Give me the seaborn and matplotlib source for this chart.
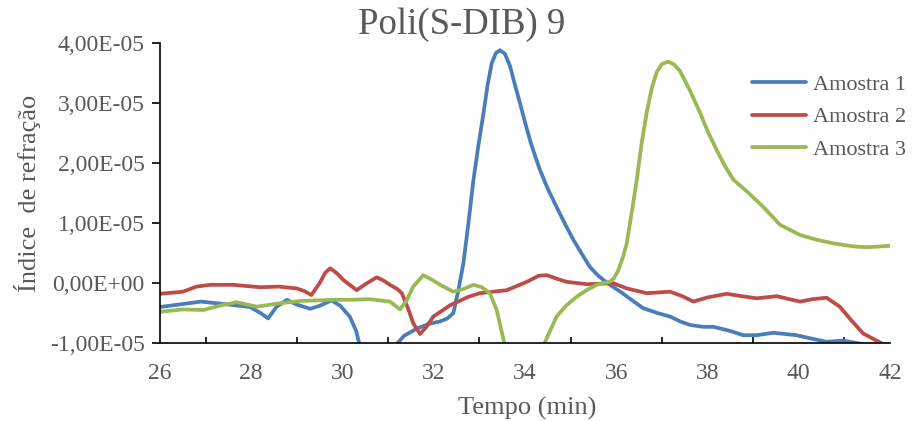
import numpy as np
import pandas as pd
import matplotlib
matplotlib.use("Agg")
import matplotlib.pyplot as plt
from matplotlib.ticker import FuncFormatter, MultipleLocator
import seaborn as sns

# values in units of 1e-5
SCALE = 1e-5
t1 = [26.0, 26.4, 26.9, 27.4, 27.97, 28.2, 28.37, 28.55, 28.78, 29.0, 29.29, 29.5, 29.76, 29.95,
      30.16, 30.3, 30.38, 30.5, 31.0, 31.15, 31.35, 31.63, 31.9, 32.14, 32.3, 32.43, 32.54, 32.65,
      32.76, 32.87, 32.98, 33.09, 33.18, 33.27, 33.36, 33.45, 33.56, 33.67, 33.78, 33.89, 34.0,
      34.11, 34.22, 34.33, 34.5, 34.69, 34.88, 35.06, 35.25, 35.42, 35.58, 35.72, 35.9, 36.1,
      36.35, 36.59, 36.9, 37.18, 37.4, 37.62, 37.9, 38.13, 38.5, 38.78, 39.08, 39.44, 39.7, 39.95,
      40.3, 40.61, 40.98, 41.41, 42.0]
a1 = [-0.40, -0.36, -0.31, -0.35, -0.40, -0.50, -0.59, -0.40, -0.28, -0.36, -0.43, -0.38, -0.29, -0.38,
      -0.56, -0.80, -1.05, -1.6, -1.6, -1.05, -0.88, -0.76, -0.68, -0.64, -0.59, -0.50, -0.12, 0.33,
      1.0, 1.72, 2.3, 2.83, 3.3, 3.66, 3.83, 3.88, 3.82, 3.62, 3.3, 3.0, 2.68,
      2.38, 2.12, 1.88, 1.57, 1.27, 0.98, 0.72, 0.48, 0.27, 0.14, 0.05, -0.05, -0.15,
      -0.29, -0.42, -0.50, -0.56, -0.64, -0.70, -0.73, -0.73, -0.80, -0.87, -0.87, -0.83, -0.85, -0.87,
      -0.93, -0.98, -0.96, -1.02, -1.03]

t2 = [26.0, 26.5, 26.8, 27.1, 27.6, 28.19, 28.6, 28.99, 29.15, 29.32, 29.5, 29.62, 29.73, 29.88, 30.02,
      30.31, 30.5, 30.75, 30.9, 31.04, 31.2, 31.3, 31.45, 31.55, 31.7, 31.85, 31.99, 32.36, 32.76, 33.01,
      33.6, 34.04, 34.3, 34.48, 34.7, 34.91, 35.35, 35.94, 36.23, 36.67, 37.18, 37.45, 37.69, 38.0,
      38.42, 38.75, 39.08, 39.52, 39.8, 40.03, 40.3, 40.61, 40.9, 41.15, 41.41, 41.85, 42.0]
a2 = [-0.18, -0.145, -0.06, -0.03, -0.03, -0.07, -0.06, -0.09, -0.13, -0.2, 0.0, 0.17, 0.245, 0.16, 0.05,
      -0.12, -0.02, 0.095, 0.04, -0.03, -0.1, -0.17, -0.45, -0.67, -0.85, -0.72, -0.56, -0.37, -0.23, -0.17,
      -0.12, 0.02, 0.12, 0.13, 0.07, 0.02, -0.02, -0.005, -0.09, -0.17, -0.145, -0.22, -0.31, -0.24,
      -0.18, -0.22, -0.255, -0.22, -0.27, -0.31, -0.27, -0.245, -0.395, -0.62, -0.84, -1.02, -1.08]

t3 = [26.0, 26.5, 26.95, 27.3, 27.68, 28.12, 28.6, 29.07, 29.8, 30.2, 30.6, 31.04, 31.26, 31.4, 31.55,
      31.77, 31.95, 32.14, 32.43, 32.65, 32.87, 33.05, 33.23, 33.38, 33.56, 33.65, 34.3, 34.4, 34.69,
      34.9, 35.13, 35.35, 35.57, 35.86, 35.95, 36.05, 36.15, 36.23, 36.34, 36.45, 36.56, 36.67, 36.78,
      36.89, 37.0, 37.14, 37.27, 37.4, 37.62, 37.84, 38.02, 38.2, 38.38, 38.57, 38.9, 39.22, 39.59,
      40.03, 40.4, 40.76, 41.2, 41.49, 42.0]
a3 = [-0.48, -0.44, -0.45, -0.38, -0.32, -0.395, -0.34, -0.30, -0.28, -0.28, -0.27, -0.31, -0.44, -0.30, -0.06,
      0.13, 0.06, -0.03, -0.145, -0.10, -0.03, -0.07, -0.17, -0.45, -1.05, -1.6, -1.6, -1.05, -0.56,
      -0.38, -0.23, -0.12, -0.03, 0.02, 0.08, 0.22, 0.44, 0.66, 1.18, 1.72, 2.35, 2.85, 3.25,
      3.52, 3.65, 3.69, 3.64, 3.53, 3.2, 2.83, 2.5, 2.22, 1.95, 1.72, 1.5, 1.27, 0.97,
      0.80, 0.72, 0.66, 0.61, 0.595, 0.62]

series = ["Amostra 1", "Amostra 2", "Amostra 3"]
colors = ["#4A7EBB", "#BE4B48", "#98B954"]
title = "Poli(S-DIB) 9"
xlabel = "Tempo (min)"
ylabel = "Índice  de refração"

frames = []
for name, t, a in zip(series, [t1, t2, t3], [a1, a2, a3]):
    frames.append(pd.DataFrame({"t": t, "v": np.array(a) * SCALE, "s": name}))
df = pd.concat(frames, ignore_index=True)

sns.set_style("white")
plt.rcParams['font.family'] = ['Liberation Serif', 'DejaVu Serif']
TXT = "#595959"

fig = plt.figure(figsize=(9.14, 4.21), dpi=100)
ax = fig.add_axes([160/914, 1-343/421, 730/914, 300/421])
sns.lineplot(data=df, x="t", y="v", hue="s", palette=colors, estimator=None,
             sort=False, linewidth=2.7, solid_joinstyle='round', solid_capstyle='round', ax=ax)

ax.set_xlim(26, 42)
ax.set_ylim(-1e-5, 4e-5)
ax.xaxis.set_major_locator(MultipleLocator(2))
ax.xaxis.set_minor_locator(MultipleLocator(1))
ax.yaxis.set_major_locator(MultipleLocator(1e-5))
ax.yaxis.set_major_formatter(FuncFormatter(lambda v, p: f"{v:.2E}".replace('.', ',')))

for s in ["top", "right"]:
    ax.spines[s].set_visible(False)
for s in ["left", "bottom"]:
    ax.spines[s].set_color("black")
    ax.spines[s].set_linewidth(1.2)

ax.tick_params(axis='x', which='major', direction='inout', length=9, width=1.2, color='black',
               labelsize=17, labelcolor=TXT, pad=10)
ax.tick_params(axis='x', which='minor', direction='in', length=4, width=1.2, color='black', bottom=True)
ax.tick_params(axis='y', which='major', direction='out', length=6, width=1.2, color='black',
               labelsize=17, labelcolor=TXT, pad=5, left=True)

ax.set_xlabel(xlabel, fontsize=19, color=TXT)
ax.set_ylabel(ylabel, fontsize=19, color=TXT)
ax.xaxis.set_label_coords((527-160)/730, (343-397)/300)
ax.yaxis.set_label_coords((41-160)/730, 0.5)
fig.text(462/914, 1-25/421, title, ha='center', va='center', fontsize=26.5, color=TXT)

ax.legend(frameon=False, fontsize=16, loc='upper left', bbox_to_anchor=(752/914, 1-74/421),
          bbox_transform=fig.transFigure, borderaxespad=0, borderpad=0, handlelength=2.45,
          handletextpad=0.3, labelspacing=0.55, labelcolor=TXT)
ax.grid(False)

fig.savefig("out.png", dpi=100)
